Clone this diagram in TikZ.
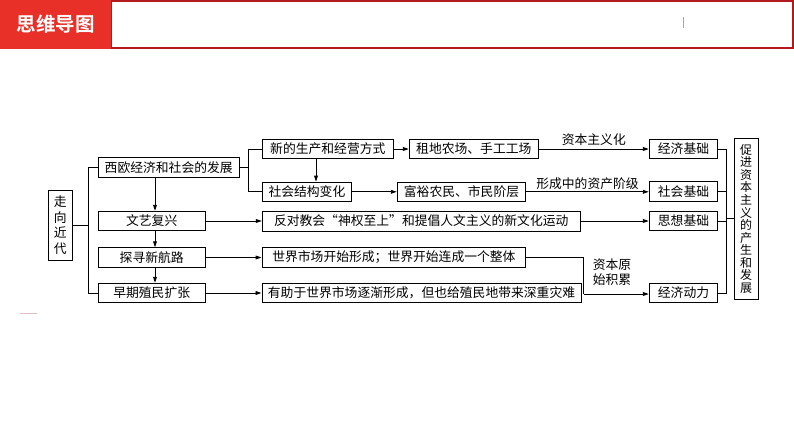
\documentclass[tikz,border=0pt]{standalone}
\usepackage{fontspec}
\setmainfont{Noto Sans CJK SC}
\newfontfamily\hdfont{Noto Sans CJK SC Bold}
\usetikzlibrary{arrows.meta}
\definecolor{hdred}{RGB}{232,48,40}
\definecolor{hdborder}{RGB}{178,24,30}
\begin{document}
\begin{tikzpicture}[x=1pt,y=-1pt,
  box/.style={draw, line width=1pt, inner sep=0pt, anchor=center, font=\fontsize{12.8}{15}\selectfont},
  ln/.style={line width=0.9pt},
  arr/.style={ln, -{Triangle[length=6pt,width=3.8pt]}},
  lbl/.style={inner sep=0pt, font=\fontsize{12.8}{15}\selectfont, align=center}]
\useasboundingbox (0,0) rectangle (794,447);
% header
\fill[white] (0,0) rectangle (794,447);
\draw[hdborder, line width=1.4pt] (111,1) rectangle (793,48);
\fill[hdred] (0,0) rectangle (111,48.5);
\node[text=white, inner sep=0pt, font=\hdfont\fontsize{19.5}{20}\selectfont] (hd) at (55.5,24) {思维导图};
\draw[gray!70, line width=0.6pt] (683,17) -- (683,28);
\draw[red!30!gray!40, line width=0.8pt] (20,313.5) -- (37,313.5);
% nodes
\node[box, minimum width=24pt, minimum height=70pt, align=center, font=\fontsize{12.8}{15.5}\selectfont] (zx) at (60.3,225) {走\\向\\近\\代};
\node[box, minimum width=140.7pt, minimum height=20.4pt] (xo) at (168.7,167.5) {西欧经济和社会的发展};
\node[box, minimum width=131pt, minimum height=19.7pt] (xd) at (327.8,149) {新的生产和经营方式};
\node[box, minimum width=89.7pt, minimum height=19.4pt] (sh) at (306.9,191.8) {社会结构变化};
\node[box, minimum width=106.7pt, minimum height=19.4pt] (wy) at (151.7,221) {文艺复兴};
\node[box, minimum width=106.7pt, minimum height=19.4pt] (tx) at (151.7,257.5) {探寻新航路};
\node[box, minimum width=106.7pt, minimum height=19.4pt] (zq) at (151.7,293) {早期殖民扩张};
\node[box, minimum width=317.7pt, minimum height=20pt] (fd) at (421.2,221) {反对教会“神权至上”和提倡人文主义的新文化运动};
\node[box, minimum width=263.7pt, minimum height=20pt] (sj) at (393.9,257.5) {世界市场开始形成；世界开始连成一个整体};
\node[box, minimum width=319pt, minimum height=19.7pt] (yz) at (421.5,293) {有助于世界市场逐渐形成，但也给殖民地带来深重灾难};
\node[box, minimum width=129pt, minimum height=19.7pt] (zd) at (473.8,149) {租地农场、手工工场};
\node[box, minimum width=128.4pt, minimum height=19pt] (fy) at (461.5,191.8) {富裕农民、市民阶层};
\node[box, minimum width=68.4pt, minimum height=19.7pt] (jj) at (683.5,149) {经济基础};
\node[box, minimum width=68.4pt, minimum height=19.7pt] (sg) at (683.5,191.8) {社会基础};
\node[box, minimum width=68.4pt, minimum height=19.4pt] (sx) at (683.5,221) {思想基础};
\node[box, minimum width=68.4pt, minimum height=19pt] (jd) at (683.5,293) {经济动力};
\node[box, minimum width=24.3pt, minimum height=161pt, align=center, font=\fontsize{12}{12.55}\selectfont] (cj) at (746.2,218.8) {促\\进\\资\\本\\主\\义\\的\\产\\生\\和\\发\\展};
% helper coordinates
\coordinate (lb) at (88.3,0);
\coordinate (rb) at (248.3,0);
\coordinate (v1) at (155,0);
\coordinate (v2) at (316,0);
\coordinate (ve) at (583.5,0);
\coordinate (rv) at (726,0);
% left bracket
\draw[ln] (zx.east) -- (zx.east -| lb);
\draw[ln] (xo.west) -- (xo.west -| lb) -- (zq.west -| lb) -- (zq.west);
% vertical arrows on the left
\draw[arr] (xo.south -| v1) -- (wy.north -| v1);
\draw[arr] (wy.south -| v1) -- (tx.north -| v1);
\draw[arr] (tx.south -| v1) -- (zq.north -| v1);
% second bracket
\draw[ln] (xo.east) -- (xo.east -| rb);
\draw[ln] (xd.west) -- (xd.west -| rb) -- (sh.west -| rb) -- (sh.west);
\draw[arr] (xd.south -| v2) -- (sh.north -| v2);
% horizontal arrows
\draw[arr] (xd.east) -- (zd.west);
\draw[arr] (sh.east) -- (fy.west);
\draw[arr] (zd.east) -- node[lbl, above=3pt] (l1) {资本主义化} (jj.west);
\draw[arr] (fy.east) -- node[lbl, above=2pt] (l2) {形成中的资产阶级} (sg.west);
\draw[arr] (wy.east) -- (fd.west);
\draw[arr] (fd.east) -- (sx.west);
\draw[arr] (tx.east) -- (sj.west);
\draw[arr] (zq.east) -- (yz.west);
\draw[ln] (sj.east) -- (sj.east -| ve) -- ([yshift=-1pt]jd.west -| ve);
\draw[arr] ([yshift=-1pt]jd.west -| ve) -- ([yshift=-1pt]jd.west);
\node[lbl, font=\fontsize{12.8}{15.5}\selectfont] (l3) at (612,272) {资本原\\始积累};
% right bracket
\draw[ln] (jj.east) -- (jj.east -| rv) -- (jd.east -| rv) -- (jd.east);
\draw[ln] (sg.east) -- (sg.east -| rv);
\draw[ln] (sx.east) -- (sx.east -| rv);
\draw[ln] (cj.west -| rv) -- (cj.west);
\end{tikzpicture}
\end{document}
